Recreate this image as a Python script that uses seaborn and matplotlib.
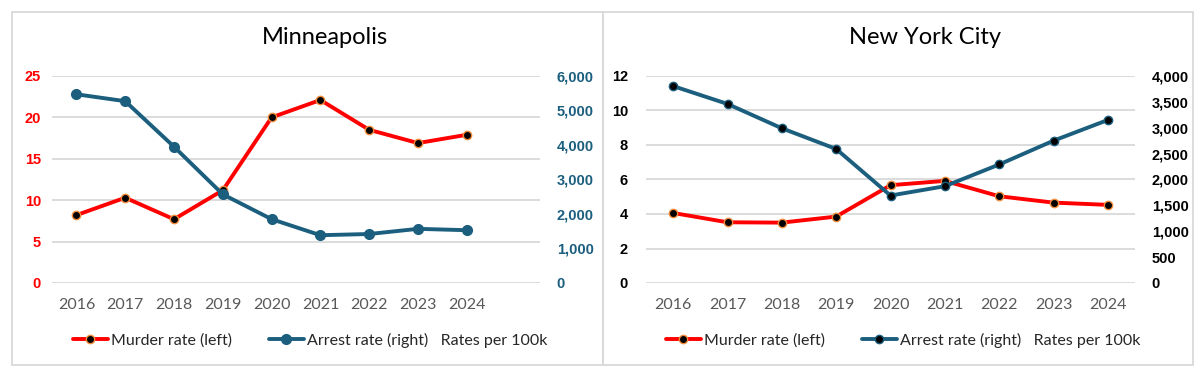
import matplotlib
matplotlib.use("Agg")
import matplotlib.pyplot as plt
from matplotlib.patches import Rectangle
import seaborn as sns
import pandas as pd
import numpy as np

years = ["2016", "2017", "2018", "2019", "2020", "2021", "2022", "2023", "2024"]

mpls_murder = [8.2, 10.3, 7.7, 11.2, 20.0, 22.1, 18.5, 16.9, 17.9]
mpls_arrest = [5470, 5270, 3950, 2570, 1850, 1385, 1420, 1570, 1530]

nyc_murder = [4.06, 3.52, 3.50, 3.85, 5.67, 5.92, 5.03, 4.66, 4.53]
nyc_arrest = [3805, 3460, 2990, 2590, 1690, 1870, 2290, 2750, 3150]

titles = ["Minneapolis", "New York City"]
legend_labels = ["Murder rate (left)", "Arrest rate (right)   Rates per 100k"]

RED = "#FF0000"
BLUE = "#1B5E7E"
ORANGE = "#F28C3C"
GRID = "#D9D9D9"
XCOL = "#595959"

sns.set_theme(style="white")
plt.rcParams["font.family"] = ["Lato", "DejaVu Sans"]

W, H = 1200, 373
fig = plt.figure(figsize=(12, 3.73), dpi=100)

def fx(px):
    return px / W

def fy(py):
    return 1 - py / H

# panel borders
for x0, x1 in [(12, 603), (603, 1193)]:
    fig.patches.append(Rectangle((fx(x0), fy(365)), fx(x1 - x0), (365 - 12) / H,
                                 transform=fig.transFigure, fill=False,
                                 edgecolor="#D9D9D9", linewidth=1.3))

configs = [
    dict(murder=mpls_murder, arrest=mpls_arrest, title=titles[0],
         box=(52, 540), xlim=(-0.5, 9.5), lmax=25, lstep=5, rmax=6000, rstep=1000,
         lcol=RED, rcol=BLUE, arrest_face=BLUE, title_x=325, legend_x=310, lpad=8),
    dict(murder=nyc_murder, arrest=nyc_arrest, title=titles[1],
         box=(646, 1135), xlim=(-0.5, 8.5), lmax=12, lstep=2, rmax=4000, rstep=500,
         lcol="black", rcol="black", arrest_face="black", title_x=925, legend_x=903, lpad=13),
]

TICKFONT = ["Liberation Sans", "DejaVu Sans"]

for c in configs:
    x0, x1 = c["box"]
    ax = fig.add_axes([fx(x0), fy(283), fx(x1 - x0), (283 - 76) / H])
    ax2 = ax.twinx()
    df = pd.DataFrame({"year": years, "murder": c["murder"], "arrest": c["arrest"]})

    sns.lineplot(data=df, x="year", y="murder", ax=ax, color=RED, linewidth=2.8,
                 marker="o", markersize=6, markerfacecolor="black",
                 markeredgecolor=ORANGE, markeredgewidth=1.0, sort=False, legend=False)
    sns.lineplot(data=df, x="year", y="arrest", ax=ax2, color=BLUE, linewidth=2.8,
                 marker="o", markersize=7 if c["arrest_face"] == BLUE else 6,
                 markerfacecolor=c["arrest_face"],
                 markeredgecolor=BLUE, markeredgewidth=1.0, sort=False, legend=False)

    ax.set_xlim(*c["xlim"])
    ax.set_ylim(0, c["lmax"])
    ax2.set_ylim(0, c["rmax"])

    lt = np.arange(0, c["lmax"] + 0.001, c["lstep"])
    rt = np.arange(0, c["rmax"] + 0.001, c["rstep"])
    ax.set_yticks(lt)
    ax.set_yticklabels([f"{int(v)}" for v in lt], fontweight="bold",
                       color=c["lcol"], fontsize=10.5, family=TICKFONT)
    ax2.set_yticks(rt)
    ax2.set_yticklabels([f"{int(v):,}" for v in rt], fontweight="bold",
                        color=c["rcol"], fontsize=10.5, family=TICKFONT)

    ax.grid(axis="y", color=GRID, linewidth=1.3)
    ax.grid(axis="x", visible=False)
    ax2.grid(False)
    ax.set_axisbelow(True)
    for a in (ax, ax2):
        for s in a.spines.values():
            s.set_visible(False)
        a.set_xlabel("")
        a.set_ylabel("")
        a.tick_params(length=0)

    ax.tick_params(axis="x", colors=XCOL, labelsize=11.5, pad=11)
    ax.tick_params(axis="y", pad=c["lpad"])
    ax2.tick_params(axis="y", pad=12)

    fig.text(fx(c["title_x"]), fy(37), c["title"], ha="center", va="center",
             fontsize=17, color="black")

    handles = [ax.lines[0], ax2.lines[0]]
    fig.legend(handles, legend_labels, loc="center", ncol=2,
               bbox_to_anchor=(fx(c["legend_x"]), fy(340)), frameon=False,
               fontsize=11.5, handlelength=2.2, handletextpad=0.2, columnspacing=2.3)

fig.savefig("out.png", dpi=100)
